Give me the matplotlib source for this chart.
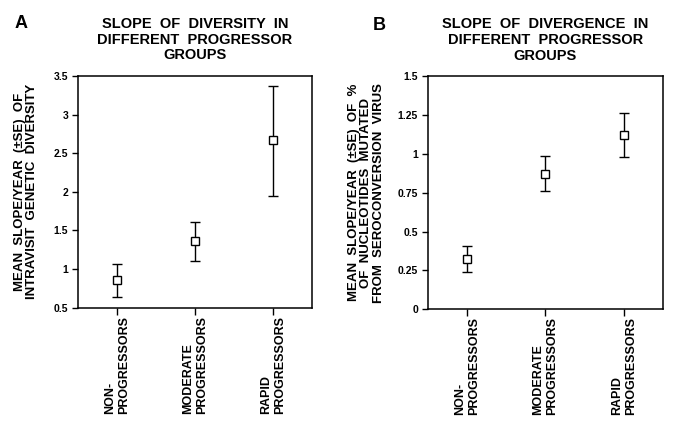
import matplotlib
matplotlib.use("Agg")
import matplotlib.pyplot as plt

plt.rcParams['font.family'] = ['Liberation Sans', 'DejaVu Sans']
plt.rcParams['font.weight'] = 'bold'

groups = ["NON-\nPROGRESSORS", "MODERATE\nPROGRESSORS", "RAPID\nPROGRESSORS"]

# panel A: slope of diversity
div_mean = [0.855, 1.365, 2.668]
div_low = [0.646, 1.107, 1.95]
div_high = [1.068, 1.611, 3.375]

# panel B: slope of divergence
dvg_mean = [0.326, 0.871, 1.124]
dvg_low = [0.24, 0.762, 0.978]
dvg_high = [0.409, 0.987, 1.265]

a_ticks = [0.5, 1, 1.5, 2, 2.5, 3, 3.5]
a_ticklabels = ["0.5", "1", "1.5", "2", "2.5", "3", "3.5"]
b_ticks = [0, 0.25, 0.5, 0.75, 1, 1.25, 1.5]
b_ticklabels = ["0", "0.25", "0.5", "0.75", "1", "1.25", "1.5"]

fig = plt.figure(figsize=(6.78, 4.36), dpi=100)
fig.patch.set_facecolor("white")


def draw_panel(ax, mean, low, high, ticks, ticklabels, title, ylabel, label_x):
    x = range(len(mean))
    yerr = [[m - l for m, l in zip(mean, low)], [h - m for m, h in zip(mean, high)]]
    ax.errorbar(x, mean, yerr=yerr, fmt="s", color="black", ecolor="black",
                mfc="white", mec="black", mew=1.0, ms=5.5,
                elinewidth=1.0, capsize=3.5, capthick=1.0)
    ax.set_xlim(-0.5, 2.5)
    ax.set_ylim(ticks[0], ticks[-1])
    ax.set_yticks(ticks)
    ax.set_yticklabels(ticklabels, fontsize=7.5, fontweight="bold")
    ax.set_xticks(list(x))
    ax.set_xticklabels(groups, rotation=90, fontsize=9, fontweight="bold",
                       ha="center", va="top", multialignment="left")
    ax.tick_params(axis="y", direction="out", length=4, width=1, pad=3)
    ax.tick_params(axis="x", direction="out", length=5, width=1, pad=1)
    for s in ax.spines.values():
        s.set_linewidth(1.1)
    ax.set_title(title, fontsize=10.5, fontweight="bold", pad=12, linespacing=1.15)
    ax.set_ylabel(ylabel, fontsize=9.5, fontweight="bold", linespacing=1.05)
    ax.yaxis.set_label_coords(label_x, 0.5)


axA = fig.add_axes([0.115, 0.294, 0.345, 0.532])
draw_panel(axA, div_mean, div_low, div_high, a_ticks, a_ticklabels,
           "SLOPE  OF  DIVERSITY  IN\nDIFFERENT  PROGRESSOR\nGROUPS",
           "MEAN  SLOPE/YEAR  (±SE)  OF\nINTRAVISIT  GENETIC  DIVERSITY", -0.171)

axB = fig.add_axes([0.631, 0.291, 0.347, 0.534])
draw_panel(axB, dvg_mean, dvg_low, dvg_high, b_ticks, b_ticklabels,
           "SLOPE  OF  DIVERGENCE  IN\nDIFFERENT  PROGRESSOR\nGROUPS",
           "MEAN  SLOPE/YEAR  (±SE)  OF  %\nOF  NUCLEOTIDES  MUTATED\nFROM  SEROCONVERSION  VIRUS", -0.183)

fig.text(15 / 678, 1 - 24 / 436, "A", fontsize=13, fontweight="bold", va="center", ha="left")
fig.text(373 / 678, 1 - 26 / 436, "B", fontsize=13, fontweight="bold", va="center", ha="left")

fig.savefig("out.png", dpi=100)
